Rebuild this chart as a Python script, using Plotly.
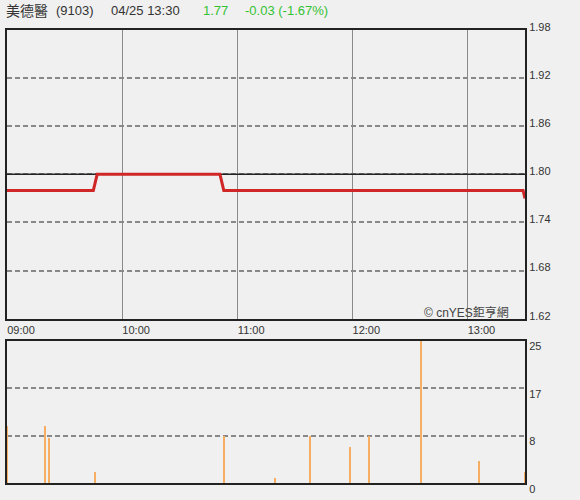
import plotly.graph_objects as go
from plotly.subplots import make_subplots

DAY = "2024-04-25 "

# price line (time, price)
price_times = ["09:00", "09:45", "09:47", "10:51", "10:53", "13:29", "13:30"]
price_vals = [1.78, 1.78, 1.80, 1.80, 1.78, 1.78, 1.77]
prev_close = 1.80

# volume bars
vol_times = ["09:00", "09:20", "09:22", "09:46", "10:53", "11:20", "11:38",
             "11:59", "12:09", "12:36", "13:06", "13:30"]
vol_vals = [10, 10, 8, 2, 8.4, 1, 8.4, 6.4, 8.4, 25, 4, 2]

price_ticks = [1.62, 1.68, 1.74, 1.80, 1.86, 1.92, 1.98]
price_ticktext = ["1.62", "1.68", "1.74", "1.80", "1.86", "1.92", "1.98"]
vol_ticks = [0, 25 / 3, 50 / 3, 25]
vol_ticktext = ["0", "8", "17", "25"]
hour_ticks = ["09:00", "10:00", "11:00", "12:00", "13:00"]

stock_name = "美德醫"
stock_code = "(9103)"
stamp = "04/25 13:30"
last_price = "1.77"
change_text = "-0.03 (-1.67%)"
credit = "© cnYES鉅亨網"

BG = "#f0f0f0"
LATIN = "Arial, 'Liberation Sans', 'Noto Sans CJK TC', sans-serif"
CJK = "'Noto Sans CJK TC', 'Noto Sans CJK SC', sans-serif"
GREEN = "#33c233"

fig = make_subplots(rows=2, cols=1, shared_xaxes=False, vertical_spacing=0)

xr = [DAY + "09:00", DAY + "13:30"]

# previous close reference line
fig.add_trace(go.Scatter(
    x=xr, y=[prev_close, prev_close], mode="lines",
    line=dict(color="#222222", width=1.5), hoverinfo="skip", showlegend=False),
    row=1, col=1)

fig.add_trace(go.Scatter(
    x=[DAY + t for t in price_times], y=price_vals, mode="lines",
    line=dict(color="#d02626", width=3), hoverinfo="skip", showlegend=False),
    row=1, col=1)

fig.add_trace(go.Bar(
    x=[DAY + t for t in vol_times], y=vol_vals, width=60000 * 0.7,
    marker=dict(color="#f7ad62", line=dict(width=0)),
    hoverinfo="skip", showlegend=False), row=2, col=1)

fig.update_layout(
    width=580, height=500,
    margin=dict(l=5, r=55, t=30, b=15),
    paper_bgcolor=BG, plot_bgcolor=BG,
    font=dict(family=LATIN, size=11, color="#333333"),
    bargap=0,
    xaxis=dict(domain=[0, 1], range=xr, type="date",
               tickvals=[DAY + t for t in hour_ticks], ticktext=hour_ticks,
               ticklabelshift=14, ticks="", showgrid=True,
               gridcolor="#8a8a8a", gridwidth=1,
               showline=True, linecolor="#222222", linewidth=2, mirror=True,
               zeroline=False, tickfont=dict(size=11, color="#333333")),
    yaxis=dict(domain=[0.3626, 1], range=[1.62, 1.98], side="right",
               tickvals=price_ticks, ticktext=price_ticktext, ticks="",
               showgrid=True, gridcolor="#888888", gridwidth=2,
               griddash="5px,3px", zeroline=False,
               showline=True, linecolor="#222222", linewidth=2, mirror=True,
               ticklabelshift=-3, tickfont=dict(size=11, color="#333333")),
    xaxis2=dict(domain=[0, 1], range=xr, type="date", matches="x",
                showticklabels=False, ticks="", showgrid=False,
                showline=True, linecolor="#222222", linewidth=2, mirror=True,
                zeroline=False),
    yaxis2=dict(domain=[0, 0.3143], range=[0, 25], side="right",
                tickvals=vol_ticks, ticktext=vol_ticktext, ticks="",
                showgrid=True, gridcolor="#888888", gridwidth=2,
                griddash="5px,3px", zeroline=False,
                showline=True, linecolor="#222222", linewidth=2, mirror=True,
                ticklabelshift=6, tickfont=dict(size=11, color="#333333")),
)


def px(xp):
    return (xp - 5) / 520.0


def py(yp):
    return (485 - yp) / 455.0


anns = [
    (2, stock_name, 14, "#333333", CJK),
    (52, stock_code, 13, "#333333", LATIN),
    (107, stamp, 13, "#333333", LATIN),
    (200, last_price, 13, GREEN, LATIN),
    (242, change_text, 13, GREEN, LATIN),
]
for xp, txt, sz, col, fam in anns:
    fig.add_annotation(xref="paper", yref="paper", x=px(xp), y=py(10),
                       xanchor="left", yanchor="middle", showarrow=False,
                       text=txt, font=dict(size=sz, color=col, family=fam))

fig.add_annotation(xref="paper", yref="paper", x=px(422), y=py(314),
                   xanchor="left", yanchor="middle", showarrow=False,
                   text=credit, font=dict(size=12, color="#444444", family=LATIN))

fig.write_html("out.html",
               config={"displayModeBar": False},
               post_script="document.body.style.margin='0';"
                           "document.body.style.background='#f0f0f0';")
